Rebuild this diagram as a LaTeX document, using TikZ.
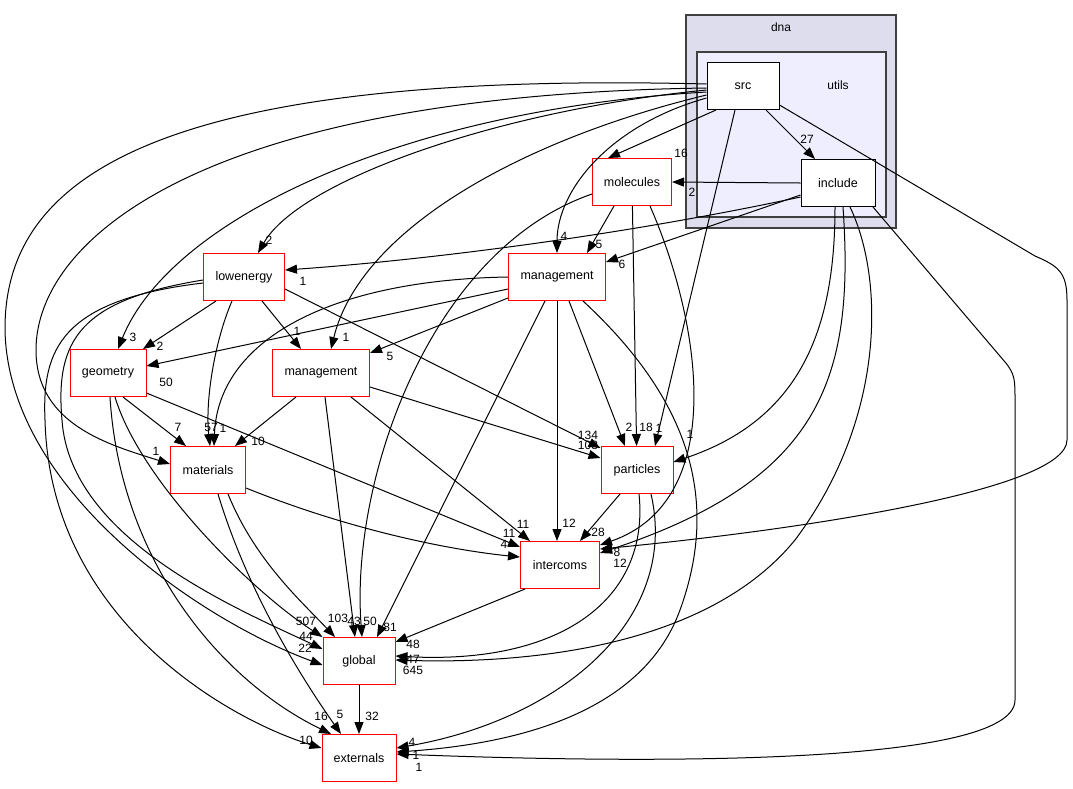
\documentclass[tikz,border=0pt]{standalone}
\usepackage{fontspec}
\setmainfont{Liberation Sans}
\usepackage{tikz}
\usetikzlibrary{calc,shapes,arrows.meta}
\definecolor{dnafill}{HTML}{DDDDEE}
\definecolor{utilsfill}{HTML}{EEEEFF}
\definecolor{clusterline}{HTML}{404040}

\tikzset{
  dirbox/.style={draw=red, line width=1pt, fill=white, minimum height=47pt, inner sep=0pt, font=\fontsize{12.5}{14}\selectfont},
  srcbox/.style={dirbox, draw=black},
  dep/.style={line width=1pt, -{Triangle[length=12pt,width=9pt]}},
  lbl/.style={font=\fontsize{12}{13}\selectfont, inner sep=0pt},
}

\begin{document}
\begin{tikzpicture}[x=1pt,y=-1pt]
        \useasboundingbox (0,0) rectangle (1073,788);
        % clusters
        \draw[clusterline, line width=1.3pt, fill=dnafill] (686,15) rectangle (896,228);
        \draw[clusterline, line width=1.3pt, fill=utilsfill] (697,52) rectangle (886,217);
        \node[lbl] (dnalabel) at (781,27) {dna};
        \node[lbl] (utilslabel) at (838,85) {utils};

        \node[srcbox, minimum width=72pt] (src) at (743,86) {src};
        \node[srcbox, minimum width=74pt] (include) at (838,183) {include};
        \node[dirbox, minimum width=79pt] (molecules) at (632,182) {molecules};
        \node[dirbox, minimum width=81pt] (lowenergy) at (244,277) {lowenergy};
        \node[dirbox, minimum width=97pt] (mgmttop) at (557,277) {management};
        \node[dirbox, minimum width=76pt] (geometry) at (108,373) {geometry};
        \node[dirbox, minimum width=97pt] (mgmtlow) at (321,373) {management};
        \node[dirbox, minimum width=75pt] (materials) at (208,470) {materials};
        \node[dirbox, minimum width=72pt] (particles) at (637,470) {particles};
        \node[dirbox, minimum width=79pt] (intercoms) at (560,565) {intercoms};
        \node[dirbox, minimum width=72pt] (global) at (359,661) {global};
        \node[dirbox, minimum width=74pt] (externals) at (359,758) {externals};

        % src
        \draw[dep] ([xshift=-27pt]src.south) -- ([xshift=-24pt]molecules.north) node[lbl, at={(681,153)}] {16};
        \draw[dep] ([xshift=23pt]src.south) -- ([xshift=-23pt]include.north) node[lbl, at={(807,139)}] {27};
        \draw[dep] ([xshift=-8pt]src.south) -- ([xshift=18pt]particles.north) node[lbl, at={(659,428)}] {1};
        \draw[dep] ([yshift=-4pt]src.west) .. controls (500,110) and (300,180) .. ([xshift=14pt]lowenergy.north) node[lbl, at={(269,240)}] {2};
        \draw[dep] ([yshift=-12pt]src.west) .. controls (610,125) and (557,190) .. (mgmttop.north) node[lbl, at={(564,236)}] {4};
        \draw[dep] ([yshift=-9pt]src.west) .. controls (520,140) and (360,230) .. ([xshift=10pt]mgmtlow.north) node[lbl, at={(346,337)}] {1};
        \draw[dep] ([yshift=-6pt]src.west) .. controls (400,110) and (170,220) .. ([xshift=10pt]geometry.north) node[lbl, at={(133,337)}] {3};
        \draw[dep] ([yshift=-2pt]src.west) .. controls (200,95) and (36,240) .. (36,350) .. controls (36,425) and (110,445) .. ([yshift=6pt]materials.west) node[lbl, at={(156,451)}] {1};
        \draw[dep] ([yshift=2pt]src.west) .. controls (150,70) and (4,180) .. (5,330) .. controls (8,490) and (200,620) .. ([yshift=-4pt]global.west) node[lbl, at={(305,648)}] {22};
        \draw[dep] ([yshift=-19pt]src.east) -- (1035,256) .. controls (1058,266) and (1067,272) .. (1067,300) -- (1067,440) .. controls (1067,490) and (800,530) .. ([yshift=16pt]intercoms.east) node[lbl, at={(617,552)}] {8};

        % include
        \draw[dep] (include.west) -- (molecules.east) node[lbl, at={(692,192)}] {2};
        \draw[dep] ([yshift=-12pt]include.west) -- ([yshift=15pt]mgmttop.east) node[lbl, at={(622,264)}] {6};
        \draw[dep] ([yshift=-14pt]include.west) .. controls (600,240) and (400,262) .. ([yshift=7pt]lowenergy.east) node[lbl, at={(303,281)}] {1};
        \draw[dep] ([xshift=-3pt]include.south) .. controls (835,330) and (800,420) .. ([yshift=8pt]particles.east) node[lbl, at={(690,434)}] {1};
        \draw[dep] ([xshift=5pt]include.south) .. controls (855,380) and (820,480) .. ([yshift=12pt]intercoms.east) node[lbl, at={(620,563)}] {12};
        \draw[dep] ([xshift=12pt]include.south) .. controls (885,280) and (885,420) .. (795,540) .. controls (705,650) and (520,664) .. ([yshift=1pt]global.east) node[lbl, at={(413,670)}] {645};
        \draw[dep] ([xshift=35pt]include.south) -- (1005,362) .. controls (1015,374) and (1015,380) .. (1015,400) -- (1015,700) .. controls (1015,770) and (600,762) .. ([yshift=4pt]externals.east) node[lbl, at={(419,767)}] {1};

        % molecules
        \draw[dep] ([xshift=-18pt]molecules.south) -- ([xshift=30pt]mgmttop.north) node[lbl, at={(599,244)}] {5};
        \draw[dep] (molecules) -- (particles) node[lbl, at={(646,427)}] {18};
        \draw[dep] ([xshift=18pt]molecules.south) .. controls (700,320) and (730,500) .. ([yshift=20pt]intercoms.east);
        \draw[dep] ([yshift=-12pt]molecules.west) .. controls (430,250) and (350,480) .. ([xshift=3pt]global.north) node[lbl, at={(370,621)}] {50};

        % lowenergy
        \draw[dep] ([xshift=-28pt]lowenergy.south) -- ([xshift=35pt]geometry.north) node[lbl, at={(160,346)}] {2};
        \draw[dep] ([xshift=18pt]lowenergy.south) -- ([xshift=-20pt]mgmtlow.north) node[lbl, at={(297,331)}] {1};
        \draw[dep] ([xshift=-12pt]lowenergy.south) .. controls (215,340) and (205,400) .. ([xshift=2pt]materials.north) node[lbl, at={(211,427)}] {57};
        \draw[dep] ([yshift=-12pt]lowenergy.east) -- ([yshift=22pt]particles.west) node[lbl, at={(588,435)}] {134};
        \draw[dep] ([yshift=-3pt]lowenergy.west) .. controls (80,300) and (55,340) .. (62,420) .. controls (70,540) and (240,610) .. ([yshift=12pt]global.west) node[lbl, at={(306,636)}] {44};
        \draw[dep] ([yshift=-6pt]lowenergy.west) .. controls (60,300) and (42,350) .. (45,420) .. controls (50,620) and (230,720) .. ([yshift=10pt]externals.west) node[lbl, at={(306,740)}] {10};

        % management (upper)
        \draw[dep] ([yshift=-12pt]mgmttop.west) -- ([yshift=7pt]geometry.east) node[lbl, at={(166,382)}] {50};
        \draw[dep] ([yshift=-21pt]mgmttop.west) -- ([yshift=20pt]mgmtlow.east) node[lbl, at={(390,356)}] {5};
        \draw[dep] (mgmttop.west) .. controls (330,280) and (218,340) .. ([xshift=6pt]materials.north) node[lbl, at={(223,428)}] {1};
        \draw[dep] ([xshift=-12pt]mgmttop.south) -- ([xshift=18pt]global.north) node[lbl, at={(390,627)}] {81};
        \draw[dep] ([xshift=12pt]mgmttop.south) -- ([xshift=-12pt]particles.north) node[lbl, at={(629,427)}] {2};
        \draw[dep] (mgmttop.south) -- ([xshift=-3pt]intercoms.north) node[lbl, at={(569,523)}] {12};
        \draw[dep] ([xshift=26pt]mgmttop.south) .. controls (690,400) and (720,500) .. (680,610) .. controls (640,720) and (500,745) .. ([yshift=6pt]externals.east) node[lbl, at={(416,755)}] {1};

        % geometry
        \draw[dep] ([xshift=15pt]geometry.south) -- ([xshift=-22pt]materials.north) node[lbl, at={(178,427)}] {7};
        \draw[dep] ([yshift=-20pt]geometry.east) -- ([yshift=18pt]intercoms.west) node[lbl, at={(509,533)}] {11};
        \draw[dep] ([xshift=7pt]geometry.south) .. controls (140,480) and (250,590) .. (global.north west) node[lbl, at={(306,621)}] {507};
        \draw[dep] ([xshift=2pt]geometry.south) .. controls (120,560) and (220,680) .. ([xshift=-28pt]externals.north) node[lbl, at={(321,716)}] {16};

        % management (lower)
        \draw[dep] ([xshift=-25pt]mgmtlow.south) -- ([xshift=27pt]materials.north) node[lbl, at={(258,441)}] {10};
        \draw[dep] ([xshift=4pt]mgmtlow.south) -- ([xshift=-4pt]global.north) node[lbl, at={(354,621)}] {43};
        \draw[dep] ([xshift=30pt]mgmtlow.south) -- ([xshift=-30pt]intercoms.north) node[lbl, at={(523,524)}] {11};
        \draw[dep] ([yshift=-14pt]mgmtlow.east) -- ([yshift=12pt]particles.west) node[lbl, at={(588,445)}] {108};

        % materials
        \draw[dep] ([yshift=-18pt]materials.east) .. controls (350,530) and (450,550) .. ([yshift=8pt]intercoms.west) node[lbl, at={(504,544)}] {4};
        \draw[dep] ([xshift=20pt]materials.south) .. controls (255,560) and (300,600) .. ([xshift=-24pt]global.north) node[lbl, at={(338,618)}] {103};
        \draw[dep] ([xshift=10pt]materials.south) .. controls (250,600) and (310,690) .. ([xshift=-18pt]externals.north) node[lbl, at={(340,714)}] {5};

        % particles, intercoms, global
        \draw[dep] ([xshift=-17pt]particles.south) -- ([xshift=20pt]intercoms.north) node[lbl, at={(598,532)}] {28};
        \draw[dep] ([xshift=2pt]particles.south) .. controls (650,600) and (560,665) .. ([yshift=5pt]global.east) node[lbl, at={(413,659)}] {47};
        \draw[dep] ([xshift=14pt]particles.south) .. controls (680,620) and (560,720) .. ([yshift=10pt]externals.east) node[lbl, at={(412,742)}] {4};
        \draw[dep] ([xshift=-35pt]intercoms.south) -- ([yshift=19pt]global.east) node[lbl, at={(413,644)}] {48};
        \draw[dep] (global) -- (externals) node[lbl, at={(372,716)}] {32};
    \end{tikzpicture}
\end{document}
